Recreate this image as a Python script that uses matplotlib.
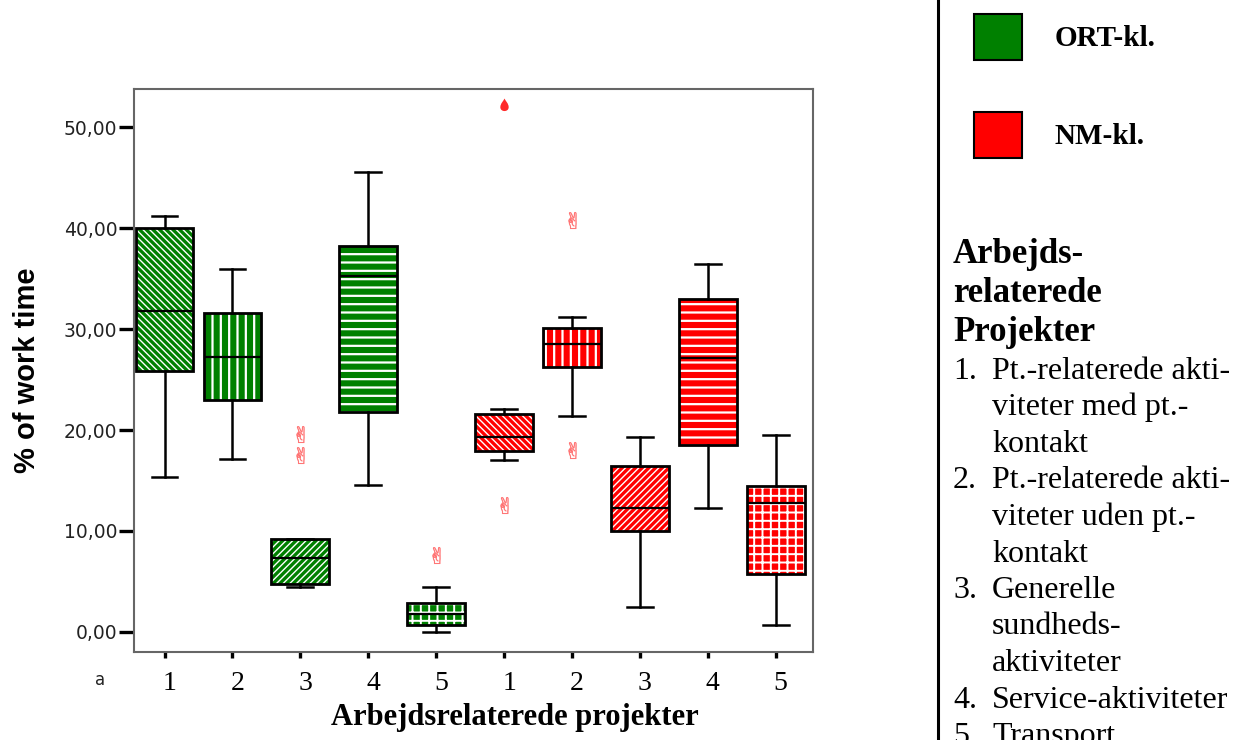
import numpy as np
import matplotlib
matplotlib.use('Agg')
import matplotlib.pyplot as plt
from matplotlib.patches import PathPatch, Patch
from matplotlib.path import Path
from matplotlib.lines import Line2D
import matplotlib.transforms as mtransforms
from matplotlib.ticker import FuncFormatter

# ---------------- data ----------------
group_labels = ['ORT-kl.', 'NM-kl.']
project_labels = ['1', '2', '3', '4', '5']

ort_whislo = [15.3, 17.1, 4.4, 14.6, 0.0]
ort_q1     = [25.9, 23.0, 4.75, 21.8, 0.7]
ort_med    = [31.8, 27.2, 7.3, 35.3, 1.8]
ort_q3     = [40.0, 31.6, 9.2, 38.2, 2.85]
ort_whishi = [41.2, 36.0, 9.2, 45.6, 4.4]
ort_outliers = [[], [], [19.6, 17.5], [], [7.6]]
ort_extremes = [[], [], [], [], []]

nm_whislo = [17.0, 21.4, 2.5, 12.3, 0.7]
nm_q1     = [17.9, 26.2, 10.0, 18.5, 5.7]
nm_med    = [19.3, 28.5, 12.3, 27.1, 12.8]
nm_q3     = [21.6, 30.1, 16.4, 33.0, 14.5]
nm_whishi = [22.1, 31.2, 19.3, 36.5, 19.5]
nm_outliers = [[12.6], [40.8, 18.0], [], [], []]
nm_extremes = [[52.2], [], [], [], []]

y_ticks = [0, 10, 20, 30, 40, 50]

legend_heading = ['Arbejds-', 'relaterede', 'Projekter']
legend_items = [
    ('1.', 'Pt.-relaterede akti-'), ('', 'viteter med pt.-'), ('', 'kontakt'),
    ('2.', 'Pt.-relaterede akti-'), ('', 'viteter uden pt.-'), ('', 'kontakt'),
    ('3.', 'Generelle'), ('', 'sundheds-'), ('', 'aktiviteter'),
    ('4.', 'Service-aktiviteter'), ('5.', 'Transport'),
]

# ---------------- style ----------------
GREEN = '#008000'
RED = '#ff0000'
hatches = ['\\' * 5, '||', '/' * 5, '--', '++']
hatch_widths = [1.0, 1.6, 1.0, 1.6, 1.4]
plt.rcParams['hatch.linewidth'] = 1.4
plt.rcParams['hatch.color'] = 'white'
SERIF = ['Liberation Serif', 'DejaVu Serif']
SANS = ['Liberation Sans', 'DejaVu Sans']

fig = plt.figure(figsize=(12.33, 7.40), dpi=100)
W, H = 1233, 740
ax = fig.add_axes([134 / W, 1 - 652 / H, (813 - 134) / W, (652 - 89) / H])

stats = []
colors = []
hatch_list = []
hatch_lw = []
extremes = []
for grp, (wl, q1, md, q3, wh, outl, ext), col in [
        ('ORT', (ort_whislo, ort_q1, ort_med, ort_q3, ort_whishi, ort_outliers, ort_extremes), GREEN),
        ('NM', (nm_whislo, nm_q1, nm_med, nm_q3, nm_whishi, nm_outliers, nm_extremes), RED)]:
    for i in range(5):
        stats.append(dict(whislo=wl[i], q1=q1[i], med=md[i], q3=q3[i], whishi=wh[i],
                          fliers=np.array(outl[i]), label=project_labels[i]))
        colors.append(col)
        hatch_list.append(hatches[i])
        hatch_lw.append(hatch_widths[i])
        extremes.append(ext[i])

positions = np.arange(1, len(stats) + 1)

bp = ax.bxp(stats, positions=positions, widths=0.85, capwidths=0.38,
            patch_artist=True, showfliers=True,
            whiskerprops=dict(color='black', linewidth=1.8),
            capprops=dict(color='black', linewidth=1.8),
            medianprops=dict(color='black', linewidth=1.6),
            flierprops=dict(marker='$\u270C$', markersize=12, linestyle='none',
                            markerfacecolor='#ff6a6a', markeredgecolor='#ff6a6a',
                            markeredgewidth=0.3))

for box, col, h, hlw in zip(bp['boxes'], colors, hatch_list, hatch_lw):
    box.set_facecolor(col)
    box.set_edgecolor('white')
    box.set_hatch(h)
    box.set_linewidth(0)
    if hasattr(box, 'set_hatch_linewidth'):
        box.set_hatch_linewidth(hlw)
    else:
        box._hatch_linewidth = hlw
    outline = PathPatch(box.get_path(), transform=box.get_transform(), fill=False,
                        edgecolor='black', linewidth=2.0, zorder=box.get_zorder() + 0.5)
    ax.add_patch(outline)

# teardrop marker for extreme values
drop = Path([(0, 1.0), (0.12, 0.7), (0.6, 0.3), (0.6, -0.25),
             (0.6, -0.62), (0.3, -0.8), (0, -0.8),
             (-0.3, -0.8), (-0.6, -0.62), (-0.6, -0.25),
             (-0.6, 0.3), (-0.12, 0.7), (0, 1.0), (0, 1.0)],
            [Path.MOVETO, Path.CURVE4, Path.CURVE4, Path.CURVE4,
             Path.CURVE4, Path.CURVE4, Path.CURVE4,
             Path.CURVE4, Path.CURVE4, Path.CURVE4,
             Path.CURVE4, Path.CURVE4, Path.CURVE4, Path.CLOSEPOLY])
for pos, ext in zip(positions, extremes):
    if ext:
        ax.plot([pos] * len(ext), ext, linestyle='none', marker=drop, markersize=10,
                color='#ff2a2a', markeredgewidth=0)

# axes
ax.set_xlim(0.55, 10.55)
ax.set_ylim(-2.0, 53.8)
ax.set_yticks(y_ticks)
ax.yaxis.set_major_formatter(FuncFormatter(lambda v, p: f'{v:.2f}'.replace('.', ',')))
ax.set_xticks(positions)
ax.set_xticklabels(project_labels * 2)
for s in ax.spines.values():
    s.set_color('#666666')
    s.set_linewidth(1.5)
ax.tick_params(axis='y', direction='out', length=11, width=2.4, color='black',
               pad=1, labelsize=13.5, labelcolor='#222222')
ax.tick_params(axis='x', direction='out', length=4.5, width=2.4, color='black',
               pad=9, labelsize=20)
for lab in ax.get_yticklabels():
    lab.set_family('DejaVu Sans')
for lab in ax.get_xticklabels():
    lab.set_family(SERIF)
    lab.set_transform(lab.get_transform() +
                      mtransforms.ScaledTranslation(5 / 100, 0, fig.dpi_scale_trans))

ax.set_ylabel('% of work time', fontsize=21, fontweight='bold', family=SANS, va='center')
ax.yaxis.set_label_coords((27 - 134) / 679, 0.5)
ax.set_xlabel('Arbejdsrelaterede projekter', fontsize=22, fontweight='bold', family=SERIF,
              va='center')
ax.xaxis.set_label_coords((515 - 134) / 679, (652 - 718) / 563)

fig.text(100 / W, 1 - 680 / H, 'a', fontsize=12, family='DejaVu Sans', ha='center',
         va='center', color='#222222')

# ---------------- right panel ----------------
fig.add_artist(Line2D([938 / W, 938 / W], [0, 1], transform=fig.transFigure,
                      color='black', linewidth=2.2))

handles = [Patch(facecolor=GREEN, edgecolor='black', linewidth=1.5),
           Patch(facecolor=RED, edgecolor='black', linewidth=1.5)]
fig.legend(handles, group_labels, loc='upper left',
           bbox_to_anchor=(974 / W, 1 - 14 / H), frameon=False, borderpad=0,
           borderaxespad=0, handlelength=1.66, handleheight=2.05, handletextpad=1.1,
           labelspacing=1.78,
           prop=dict(family=SERIF, weight='bold', size=21))

for k, line in enumerate(legend_heading):
    fig.text(953 / W, 1 - (263 + 39 * k) / H, line, fontsize=25, fontweight='bold',
             family=SERIF, ha='left', va='baseline')

for k, (num, txt) in enumerate(legend_items):
    yb = 1 - (379 + 36.5 * k) / H
    if num:
        fig.text(953 / W, yb, num, fontsize=23, family=SERIF, ha='left', va='baseline')
    fig.text(992 / W, yb, txt, fontsize=23, family=SERIF, ha='left', va='baseline')

fig.savefig('out.png', dpi=100)
